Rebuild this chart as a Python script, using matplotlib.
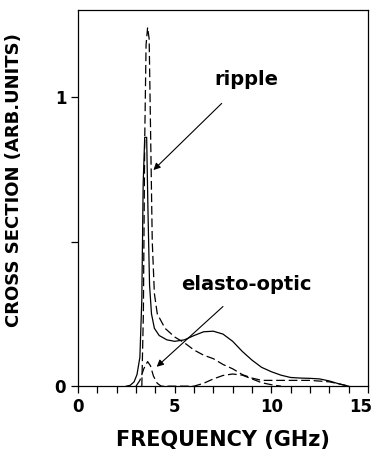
import matplotlib
matplotlib.use('Agg')
import matplotlib.pyplot as plt
import matplotlib.transforms as mtransforms
from matplotlib.ticker import MultipleLocator

# total cross section (solid)
freq_total = [2.5, 2.7, 2.9, 3.05, 3.2, 3.3, 3.37, 3.45, 3.55, 3.62, 3.7, 3.8, 3.95,
              4.2, 4.6, 5.0, 5.5, 6.0, 6.5, 7.0, 7.5, 8.0, 8.5, 9.0, 9.5, 10.0,
              10.5, 11.0, 11.5, 12.0, 12.5, 13.0, 13.5, 14.0]
val_total = [0.0, 0.003, 0.015, 0.04, 0.1, 0.3, 0.7, 0.86, 0.86, 0.6, 0.35, 0.25, 0.2,
             0.175, 0.16, 0.155, 0.16, 0.175, 0.188, 0.19, 0.18, 0.155, 0.12, 0.09, 0.065, 0.05,
             0.038, 0.03, 0.028, 0.027, 0.025, 0.018, 0.008, 0.0]

# ripple contribution (dashed)
freq_ripple = [3.3, 3.38, 3.45, 3.52, 3.6, 3.68, 3.76, 3.84, 3.95, 4.1, 4.5, 5.0, 5.5,
               6.0, 6.5, 7.0, 7.5, 8.0, 8.5, 9.0, 9.5, 10.0, 11.0, 12.0, 13.0, 13.5, 14.0]
val_ripple = [0.0, 0.25, 0.85, 1.18, 1.24, 1.2, 0.85, 0.5, 0.32, 0.25, 0.2, 0.17, 0.15,
              0.125, 0.107, 0.095, 0.075, 0.06, 0.04, 0.028, 0.02, 0.02, 0.02, 0.02, 0.015, 0.008, 0.0]

# elasto-optic contribution (dashed)
freq_elasto = [3.0, 3.2, 3.4, 3.6, 3.75, 3.9, 4.1, 4.3, 6.0, 6.5, 7.0, 7.5, 8.0,
               8.5, 9.0, 9.5, 10.0, 10.5]
val_elasto = [0.0, 0.02, 0.06, 0.085, 0.07, 0.035, 0.01, 0.0, 0.0, 0.01, 0.025, 0.037, 0.042,
              0.038, 0.025, 0.012, 0.005, 0.0]

fig = plt.figure(figsize=(3.77, 4.57), dpi=100)
ax = fig.add_axes([0.207, 0.155, 0.769, 0.823])

ax.plot(freq_total, val_total, color='black', lw=0.9)
ax.plot(freq_ripple, val_ripple, color='black', lw=0.9, ls=(0, (7, 3)))
ax.plot(freq_elasto, val_elasto, color='black', lw=0.9, ls=(0, (7, 3)))

ax.set_xlim(0, 15)
ax.set_ylim(0, 1.30)
ax.set_xticks([0, 5, 10, 15])
ax.xaxis.set_minor_locator(MultipleLocator(1))
ax.set_yticks([0, 1])
ax.set_yticklabels(['0', '1'])
ax.yaxis.set_minor_locator(MultipleLocator(0.5))
ax.tick_params(which='both', direction='out', length=5, width=0.9)
for lab in ax.get_xticklabels() + ax.get_yticklabels():
    lab.set_fontweight('bold')
    lab.set_fontsize(12)

# pull "15" in a little so it is not clipped at the right edge
last = ax.get_xticklabels()[-1]
last.set_transform(last.get_transform() +
                   mtransforms.ScaledTranslation(-5 / 72, 0, fig.dpi_scale_trans))

for s in ax.spines.values():
    s.set_linewidth(0.9)

ax.set_xlabel('FREQUENCY (GHz)', fontsize=15, fontweight='bold', labelpad=10)
ax.set_ylabel('CROSS SECTION (ARB.UNITS)', fontsize=13, fontweight='bold')
ax.yaxis.set_label_coords(-0.19, 0.548)

ax.annotate('ripple', xy=(3.9, 0.747), xytext=(8.7, 1.06), fontsize=14, fontweight='bold',
            ha='center', va='center',
            arrowprops=dict(arrowstyle='-|>', color='black', lw=0.8, shrinkA=12, shrinkB=0,
                            mutation_scale=10))
ax.annotate('elasto-optic', xy=(4.07, 0.067), xytext=(8.73, 0.35), fontsize=14, fontweight='bold',
            ha='center', va='center',
            arrowprops=dict(arrowstyle='-|>', color='black', lw=0.8, shrinkA=10, shrinkB=0,
                            mutation_scale=10))

fig.savefig('out.png', dpi=100)
